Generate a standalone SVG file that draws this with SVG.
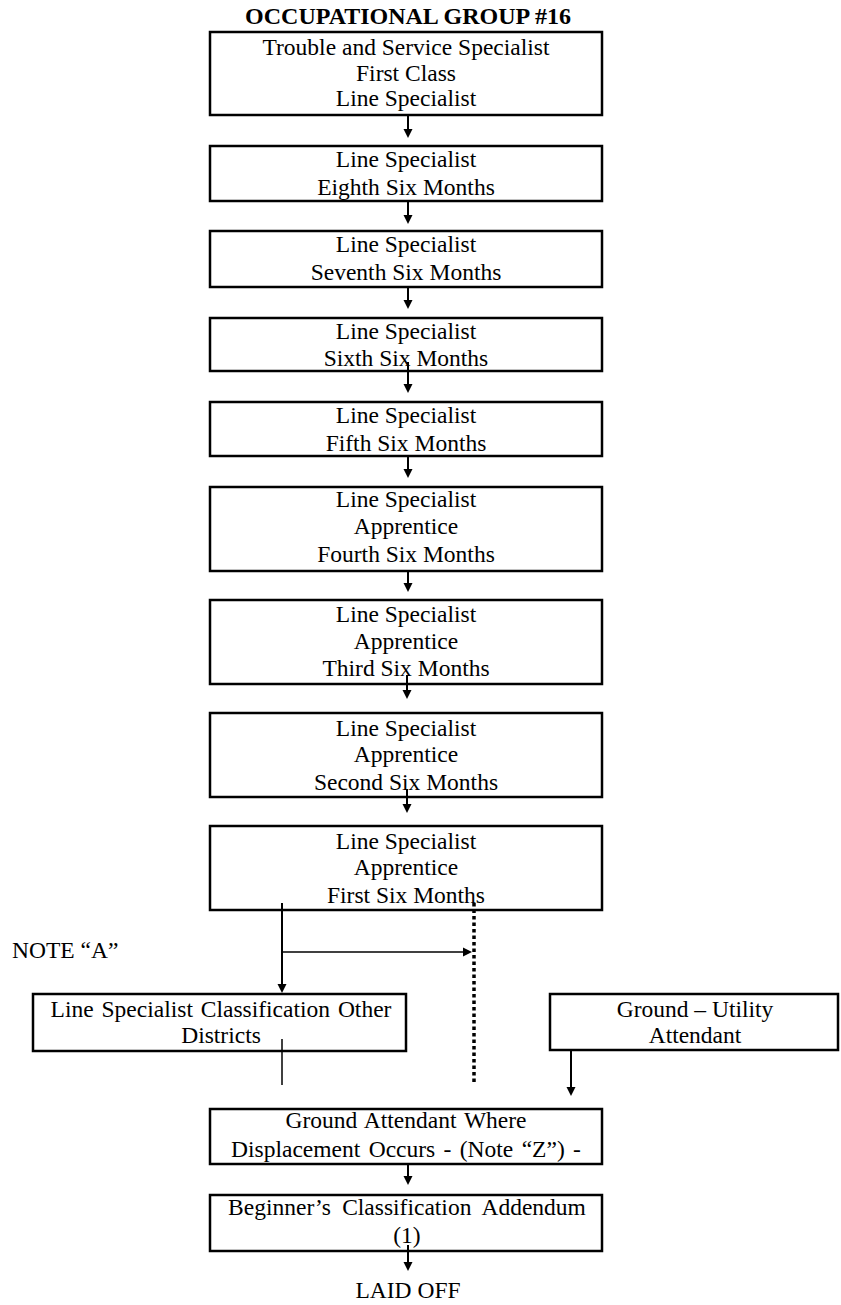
<svg xmlns="http://www.w3.org/2000/svg" width="841" height="1305" viewBox="0 0 841 1305">
  <style>
    .box { fill: #fff; stroke: #000; stroke-width: 2.5; }
    .t { font-family: "Liberation Serif", "Times New Roman", serif; font-size: 23.5px; fill: #000; text-anchor: middle; }
    .title { font-family: "Liberation Serif", "Times New Roman", serif; font-size: 24px; font-weight: bold; fill: #000; text-anchor: middle; }
    .note { font-family: "Liberation Serif", "Times New Roman", serif; font-size: 23.5px; fill: #000; }
    .ln { stroke: #000; stroke-width: 2; fill: none; }
    .thin { stroke: #000; stroke-width: 1.5; fill: none; }
    .dot { stroke: #000; stroke-width: 3.5; stroke-dasharray: 3.5 3; fill: none; }
    .head { fill: #000; }
  </style>

  <text class="title" x="408" y="24">OCCUPATIONAL GROUP #16</text>

  <!-- promotion ladder, top to bottom -->
  <g id="n1">
    <rect class="box" x="210" y="32" width="392" height="83"/>
    <text class="t" x="406" y="55">Trouble and Service Specialist</text>
    <text class="t" x="406" y="81">First Class</text>
    <text class="t" x="406" y="106">Line Specialist</text>
  </g>
  <g id="n2">
    <rect class="box" x="210" y="146" width="392" height="55"/>
    <text class="t" x="406" y="167">Line Specialist</text>
    <text class="t" x="406" y="195">Eighth Six Months</text>
  </g>
  <g id="n3">
    <rect class="box" x="210" y="231" width="392" height="56"/>
    <text class="t" x="406" y="252">Line Specialist</text>
    <text class="t" x="406" y="280">Seventh Six Months</text>
  </g>
  <g id="n4">
    <rect class="box" x="210" y="318" width="392" height="53"/>
    <text class="t" x="406" y="339">Line Specialist</text>
    <text class="t" x="406" y="366">Sixth Six Months</text>
  </g>
  <g id="n5">
    <rect class="box" x="210" y="402" width="392" height="54"/>
    <text class="t" x="406" y="423">Line Specialist</text>
    <text class="t" x="406" y="451">Fifth Six Months</text>
  </g>
  <g id="n6">
    <rect class="box" x="210" y="487" width="392" height="84"/>
    <text class="t" x="406" y="507">Line Specialist</text>
    <text class="t" x="406" y="534">Apprentice</text>
    <text class="t" x="406" y="562">Fourth Six Months</text>
  </g>
  <g id="n7">
    <rect class="box" x="210" y="600" width="392" height="84"/>
    <text class="t" x="406" y="622">Line Specialist</text>
    <text class="t" x="406" y="649">Apprentice</text>
    <text class="t" x="406" y="676">Third Six Months</text>
  </g>
  <g id="n8">
    <rect class="box" x="210" y="713" width="392" height="84"/>
    <text class="t" x="406" y="736">Line Specialist</text>
    <text class="t" x="406" y="762">Apprentice</text>
    <text class="t" x="406" y="790">Second Six Months</text>
  </g>
  <g id="n9">
    <rect class="box" x="210" y="826" width="392" height="84"/>
    <text class="t" x="406" y="849">Line Specialist</text>
    <text class="t" x="406" y="875">Apprentice</text>
    <text class="t" x="406" y="903">First Six Months</text>
  </g>

  <g id="note-a">
    <text class="note" x="12" y="958">NOTE “A”</text>
  </g>

  <g id="n-other-districts">
    <rect class="box" x="33" y="994" width="373" height="57"/>
    <text class="t" x="221" y="1017" word-spacing="2">Line Specialist Classification Other</text>
    <text class="t" x="221" y="1043">Districts</text>
  </g>
  <g id="n-ground-utility">
    <rect class="box" x="550" y="994" width="288" height="56"/>
    <text class="t" x="695" y="1017">Ground – Utility</text>
    <text class="t" x="695" y="1043">Attendant</text>
  </g>
  <g id="n-ground-attendant">
    <rect class="box" x="210" y="1109" width="392" height="55"/>
    <text class="t" x="406" y="1128" word-spacing="2">Ground Attendant Where</text>
    <text class="t" x="406" y="1157" word-spacing="2.5">Displacement Occurs -  (Note “Z”) -</text>
  </g>
  <g id="n-beginner">
    <rect class="box" x="210" y="1195" width="392" height="56"/>
    <text class="t" x="407" y="1215" word-spacing="5.5">Beginner’s Classification Addendum</text>
    <text class="t" x="407" y="1243">(1)</text>
  </g>
  <g id="n-laid-off">
    <text class="t" x="408" y="1298">LAID OFF</text>
  </g>

  <g id="connectors">
    <!-- main column -->
    <line class="ln" x1="408" y1="115" x2="408" y2="130"/>
    <path class="head" d="M403.5,129 L412.5,129 L408,138 Z"/>
    <line class="ln" x1="408" y1="201" x2="408" y2="216"/>
    <path class="head" d="M403.5,215 L412.5,215 L408,224 Z"/>
    <line class="ln" x1="408" y1="287" x2="408" y2="301"/>
    <path class="head" d="M403.5,300 L412.5,300 L408,309 Z"/>
    <line class="ln" x1="408" y1="362" x2="408" y2="385"/>
    <path class="head" d="M403.5,384 L412.5,384 L408,393 Z"/>
    <line class="ln" x1="408" y1="456" x2="408" y2="470"/>
    <path class="head" d="M403.5,469 L412.5,469 L408,478 Z"/>
    <line class="ln" x1="408" y1="571" x2="408" y2="584"/>
    <path class="head" d="M403.5,583 L412.5,583 L408,592 Z"/>
    <line class="ln" x1="407" y1="675" x2="407" y2="691"/>
    <path class="head" d="M402.5,690 L411.5,690 L407,699 Z"/>
    <line class="ln" x1="407" y1="789" x2="407" y2="805"/>
    <path class="head" d="M402.5,804 L411.5,804 L407,813 Z"/>

    <!-- branch below first six months -->
    <line class="ln" x1="282" y1="903" x2="282" y2="985"/>
    <path class="head" d="M277.5,984 L286.5,984 L282,993 Z"/>
    <line class="thin" x1="282" y1="952" x2="464" y2="952"/>
    <path class="head" d="M463,947.5 L463,956.5 L472,952 Z"/>
    <line class="dot" x1="474" y1="903" x2="474" y2="1082"/>
    <line class="thin" x1="282" y1="1039" x2="282" y2="1085"/>

    <!-- ground utility to ground attendant -->
    <line class="ln" x1="571" y1="1050" x2="571" y2="1088"/>
    <path class="head" d="M566.5,1087 L575.5,1087 L571,1096 Z"/>

    <!-- lower column -->
    <line class="ln" x1="408" y1="1164" x2="408" y2="1177"/>
    <path class="head" d="M403.5,1176 L412.5,1176 L408,1185 Z"/>
    <line class="ln" x1="408" y1="1245" x2="408" y2="1263"/>
    <path class="head" d="M403.5,1262 L412.5,1262 L408,1271 Z"/>
  </g>
</svg>
